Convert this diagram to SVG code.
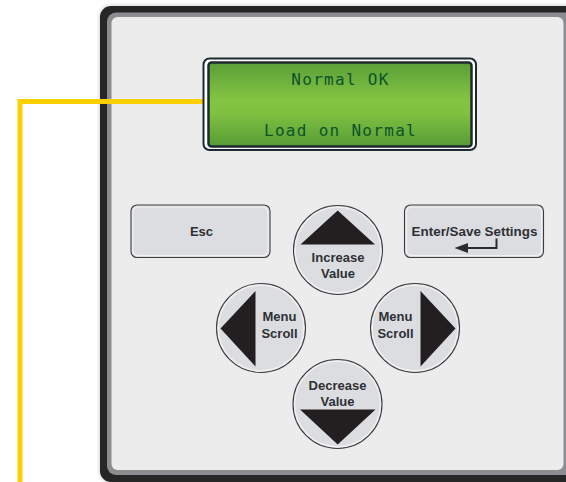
<svg xmlns="http://www.w3.org/2000/svg" width="566" height="482" viewBox="0 0 566 482">
  <defs>
    <linearGradient id="lcd" x1="0" y1="0" x2="0" y2="1">
      <stop offset="0" stop-color="#5a9f38"/>
      <stop offset="0.45" stop-color="#84c443"/>
      <stop offset="0.6" stop-color="#80c141"/>
      <stop offset="1" stop-color="#579c36"/>
    </linearGradient>
    <filter id="shadow" x="-5%" y="-5%" width="110%" height="110%">
      <feGaussianBlur in="SourceAlpha" stdDeviation="2"/>
      <feComponentTransfer><feFuncA type="linear" slope="0.25"/></feComponentTransfer>
      <feMerge><feMergeNode/><feMergeNode in="SourceGraphic"/></feMerge>
    </filter>
  </defs>
  <style>
    .btn { fill: #dcdde0; stroke: #3c3d40; stroke-width: 1.1; }
    .btnin { fill: none; stroke: #f2f2f2; stroke-width: 1.2; }
    .lbl { font-family: "Liberation Sans", Arial, sans-serif; font-weight: bold; font-size: 13px; fill: #2e3035; text-anchor: middle; }
    .lcdtxt { font-family: "DejaVu Sans Mono", "Liberation Mono", monospace; font-size: 16px; letter-spacing: 1.3px; fill: #0b532a; text-anchor: middle; }
    .tri { fill: #231f20; }
  </style>
  <rect width="566" height="482" fill="#ffffff"/>

  <g id="panel">
    <rect x="100" y="6" width="490" height="476" rx="11" fill="#282828" filter="url(#shadow)"/>
    <rect x="107" y="12.5" width="470" height="462.5" rx="9" fill="#8b8d90"/>
    <rect x="111.5" y="17" width="452" height="453" rx="6" fill="#ececec"/>
  </g>

  <g id="connectors">
    <polyline points="203,101.5 20,101.5 20,482" fill="none" stroke="#ffd000" stroke-width="5"/>
  </g>

  <g id="lcd-display">
    <rect x="203.5" y="58.5" width="272.5" height="91.5" rx="6" fill="#ffffff" stroke="#1e2a31" stroke-width="2"/>
    <rect x="208.5" y="62.5" width="263" height="84" rx="3" fill="url(#lcd)" stroke="#1e2a31" stroke-width="2.5"/>
    <text class="lcdtxt" x="340.5" y="85">Normal OK</text>
    <text class="lcdtxt" x="340.5" y="136">Load on Normal</text>
  </g>

  <g id="esc">
    <rect class="btn" x="131" y="205" width="139" height="52.5" rx="6"/>
    <rect class="btnin" x="133" y="207" width="135" height="48.5" rx="5"/>
    <text class="lbl" x="201.5" y="236">Esc</text>
  </g>

  <g id="enter-save">
    <rect class="btn" x="404.5" y="205" width="139" height="52.5" rx="6"/>
    <rect class="btnin" x="406.5" y="207" width="135" height="48.5" rx="5"/>
    <text class="lbl" x="474.5" y="236" style="font-size:13.4px">Enter/Save Settings</text>
    <polyline points="496.5,238.5 496.5,248 466,248" fill="none" stroke="#2a2c31" stroke-width="2"/>
    <polygon points="454.5,248 468,243 468,253" fill="#2a2c31"/>
  </g>

  <g id="increase-value">
    <circle class="btn" cx="338" cy="250" r="44.5"/>
    <circle class="btnin" cx="338" cy="250" r="42.8"/>
    <polygon class="tri" points="337.7,210.5 375,244.5 300.5,244.5"/>
    <text class="lbl" x="338" y="261.5">Increase</text>
    <text class="lbl" x="338" y="277.5">Value</text>
  </g>

  <g id="menu-scroll-left">
    <circle class="btn" cx="261" cy="328" r="44.5"/>
    <circle class="btnin" cx="261" cy="328" r="42.8"/>
    <polygon class="tri" points="220.5,328.5 255.5,291 255.5,366.5"/>
    <text class="lbl" x="279.5" y="320.5">Menu</text>
    <text class="lbl" x="279.5" y="337.5">Scroll</text>
  </g>

  <g id="menu-scroll-right">
    <circle class="btn" cx="415" cy="328" r="44.5"/>
    <circle class="btnin" cx="415" cy="328" r="42.8"/>
    <polygon class="tri" points="455.5,328.5 420.5,291 420.5,366.5"/>
    <text class="lbl" x="395.5" y="320.5">Menu</text>
    <text class="lbl" x="395.5" y="337.5">Scroll</text>
  </g>

  <g id="decrease-value">
    <circle class="btn" cx="337.5" cy="404" r="44.5"/>
    <circle class="btnin" cx="337.5" cy="404" r="42.8"/>
    <polygon class="tri" points="300,409.5 375.5,409.5 337.7,444.5"/>
    <text class="lbl" x="337.5" y="389.5">Decrease</text>
    <text class="lbl" x="337.5" y="405.5">Value</text>
  </g>
</svg>
